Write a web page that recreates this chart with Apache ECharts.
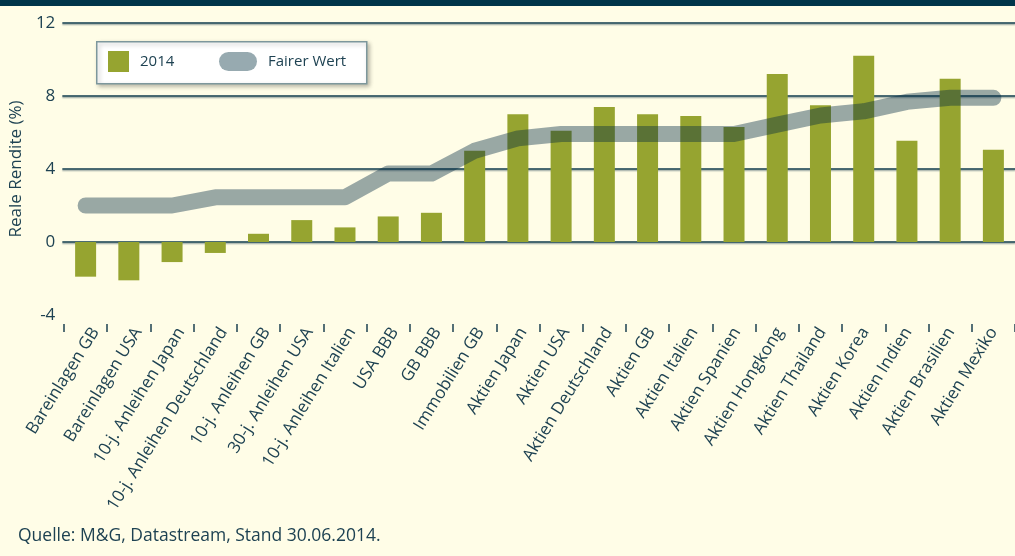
<!DOCTYPE html>
<html><head><meta charset="utf-8">
<script src="https://cdn.jsdelivr.net/npm/echarts@6/dist/echarts.min.js"></script>
<style>html,body{margin:0;padding:0;background:#fffde7;}#c{width:1015px;height:556px;}</style>
</head><body><div id="c"></div>
<script>
const categories = ['Bareinlagen GB','Bareinlagen USA','10-j. Anleihen Japan','10-j. Anleihen Deutschland','10-j. Anleihen GB','30-j. Anleihen USA','10-j. Anleihen Italien','USA BBB','GB BBB','Immobilien GB','Aktien Japan','Aktien USA','Aktien Deutschland','Aktien GB','Aktien Italien','Aktien Spanien','Aktien Hongkong','Aktien Thailand','Aktien Korea','Aktien Indien','Aktien Brasilien','Aktien Mexiko'];
const values2014 = [-1.9,-2.1,-1.1,-0.6,0.45,1.2,0.8,1.4,1.6,5.0,7.0,6.1,7.4,7.0,6.9,6.3,9.2,7.5,10.2,5.55,8.95,5.05];
const fairValue = [2.0,2.0,2.0,2.45,2.45,2.45,2.45,3.75,3.75,5.0,5.68,5.92,5.92,5.92,5.92,5.92,6.43,6.93,7.16,7.68,7.9,7.9];
const yMin = -4, yMax = 12, yStep = 4;
const seriesNames = ['2014','Fairer Wert'];
const sourceText = 'Quelle: M&G, Datastream, Stand 30.06.2014.';
const yName = 'Reale Rendite (%)';

const txt = '#1e4252';
const font = 'Open Sans';
const chart = echarts.init(document.getElementById('c'));
chart.setOption({
  backgroundColor: '#fffde7',
  textStyle: { fontFamily: font },
  grid: [
    { left: 64, top: 23, width: 955, height: 292 },
    { left: 58, top: 23, right: 0, height: 292 },
    { left: 74, top: 23, width: 955, height: 292 }
  ],
  xAxis: [
    { gridIndex: 0, type: 'category', data: categories, offset: 9,
      axisLine: { show: false, onZero: false },
      axisTick: { show: true, interval: 0, length: 8, lineStyle: { color: txt, width: 1.5 } },
      axisLabel: { show: false }, splitLine: { show: false } },
    { gridIndex: 1, type: 'value', show: false, min: 0, max: 1,
      axisLine: { show: false, onZero: false }, axisTick: { show: false }, splitLine: { show: false } },
    { gridIndex: 2, type: 'category', data: categories, offset: 9,
      axisLine: { show: false, onZero: false }, axisTick: { show: false }, splitLine: { show: false },
      axisLabel: { rotate: 58, interval: 0, fontSize: 17, color: txt, margin: 5, fontFamily: font } }
  ],
  yAxis: [
    { gridIndex: 0, type: 'value', min: yMin, max: yMax, interval: yStep, show: false,
      axisLine: { show: false, onZero: false }, splitLine: { show: false } },
    { gridIndex: 1, type: 'value', min: yMin, max: yMax, interval: yStep,
      axisLine: { show: false, onZero: false }, axisTick: { show: false },
      axisLabel: { fontSize: 17, color: txt, margin: 7, fontFamily: font },
      splitLine: { show: true, lineStyle: { color: ['rgba(0,0,0,0)', '#0f3b4c', '#0f3b4c', '#0f3b4c', '#0f3b4c'], width: 1.5,
        shadowColor: 'rgba(0,40,60,0.35)', shadowOffsetY: 1.5, shadowBlur: 1 } },
      name: yName, nameLocation: 'middle', nameGap: 21, nameRotate: 90,
      nameTextStyle: { fontSize: 17, color: txt, fontFamily: font } },
    { gridIndex: 2, type: 'value', min: yMin, max: yMax, interval: yStep, show: false,
      axisLine: { show: false, onZero: false }, splitLine: { show: false } }
  ],
  legend: [
    { left: 108, top: 51, padding: 0, itemWidth: 21, itemHeight: 21, z: 10,
      data: [{ name: seriesNames[0], icon: 'rect' }],
      textStyle: { fontSize: 15, color: txt, padding: [0, 0, 0, 6], fontFamily: font } },
    { left: 219, top: 52, padding: 0, itemWidth: 40, itemHeight: 19, z: 10,
      data: [{ name: seriesNames[1], icon: 'path://M10,0H30A10,10 0 0 1 30,20H10A10,10 0 0 1 10,0Z', itemStyle: { color: '#97aab0' } }],
      textStyle: { fontSize: 15, color: txt, padding: [0, 0, 0, 5], fontFamily: font } }
  ],
  graphic: [
    { type: 'rect', left: 0, top: 0, shape: { width: 1015, height: 6 }, style: { fill: '#00354a' }, z: 5 },
    { type: 'rect', left: 96, top: 41, z: 5, shape: { width: 270, height: 42 },
      style: { fill: '#ffffff', stroke: '#7d979c', lineWidth: 1.5, shadowBlur: 4, shadowOffsetX: 2, shadowOffsetY: 2, shadowColor: 'rgba(0,0,0,0.25)' } },
    { type: 'text', left: 18, top: 527, z: 5, style: { text: sourceText, fontSize: 17.5, fill: txt, fontFamily: font } }
  ],
  series: [
    { name: seriesNames[0], type: 'bar', xAxisIndex: 0, yAxisIndex: 0, data: values2014, barWidth: 21,
      itemStyle: { color: '#96a430' }, z: 2, silent: true },
    { name: seriesNames[1], type: 'line', xAxisIndex: 0, yAxisIndex: 0, data: fairValue, symbol: 'none',
      lineStyle: { width: 16, color: 'rgba(0,40,64,0.4)', cap: 'round', join: 'round' }, z: 3, silent: true }
  ],
  animation: false
});
</script></body></html>
